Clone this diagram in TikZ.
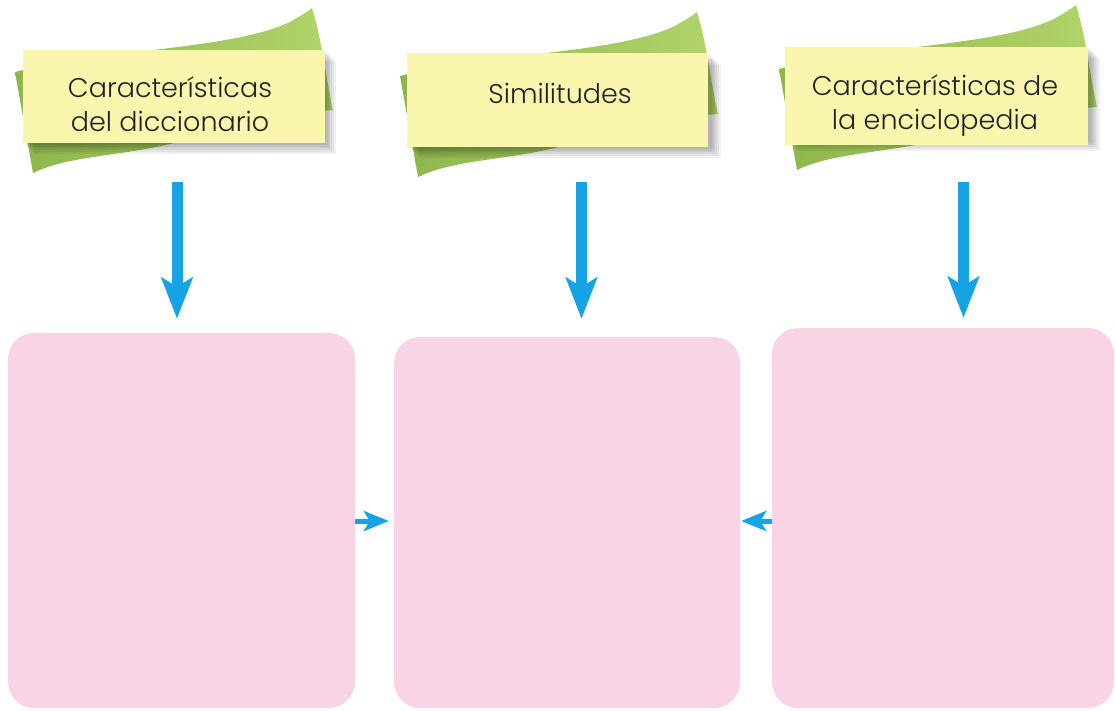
\documentclass[tikz,border=0pt]{standalone}
\usepackage{fontspec}
\setmainfont{Poppins}[UprightFont={* Light}]
\usetikzlibrary{arrows.meta}
\definecolor{noteyellow}{HTML}{FAF6AE}
\definecolor{leaflight}{HTML}{B2D46A}
\definecolor{leafdark}{HTML}{8DB64C}
\definecolor{boxpink}{HTML}{F8D4E6}
\definecolor{arrowblue}{HTML}{15A3E6}
\definecolor{txtgray}{HTML}{222222}
\newcommand{\greenleaf}[2]{%
  \begin{scope}[shift={(#1,#2)}]
    \shade[left color=leafdark, right color=leaflight]
      (15,72) .. controls (110,48) and (230,50) .. (290,22)
      .. controls (300,16) and (307,12) .. (312,8)
      .. controls (322,40) and (326,80) .. (333,110)
      .. controls (260,115) and (200,140) .. (140,150)
      .. controls (90,158) and (60,160) .. (33,173) -- cycle;
    \foreach \i in {1,...,6}
      \fill[black,opacity=0.055] (23+\i*1.8,50+\i*1.8) rectangle (325+\i*1.8,143+\i*1.8);
  \end{scope}}
\tikzset{
  note/.style={fill=noteyellow, draw=none, inner sep=0pt},
  notetext/.style={align=center, text=txtgray, font=\fontsize{27}{34}\selectfont, inner sep=0pt},
  pinkbox/.style={fill=boxpink, draw=none, rounded corners=26pt, inner sep=0pt},
  downarrow/.style={draw=arrowblue, line width=11pt, -{Stealth[length=41pt,width=31pt,inset=9pt]}},
  sidearrow/.style={draw=arrowblue, line width=5pt, -{Stealth[length=25pt,width=20pt,inset=6pt]}},
}
\begin{document}
\begin{tikzpicture}[x=1pt,y=-1pt]
  \useasboundingbox (0,0) rectangle (1116,710);
  % notes
  \greenleaf{0}{0}
  \node[note, minimum width=302pt, minimum height=93pt] (n1) at (174,96.5) {};
  \node[notetext] (t1) at (170,104) {Características\\del diccionario};
  \greenleaf{385}{4}
  \node[note, minimum width=301pt, minimum height=94pt] (n2) at (557.5,100) {};
  \node[notetext] (t2) at (560,93) {Similitudes};
  \greenleaf{764}{-3}
  \node[note, minimum width=303pt, minimum height=98pt] (n3) at (936.5,96) {};
  \node[notetext] (t3) at (935,106) {Características de\\la enciclopedia};
  % pink boxes
  \node[pinkbox, minimum width=347pt, minimum height=375pt] (b1) at (181.5,520.5) {};
  \node[pinkbox, minimum width=346pt, minimum height=371pt] (b2) at (567,522.5) {};
  \node[pinkbox, minimum width=342pt, minimum height=380pt] (b3) at (943,518) {};
  % arrows
  \draw[downarrow] ([xshift=3pt,yshift=-39pt]n1.south) -- ([xshift=3pt,yshift=14pt]n1.south |- b1.north);
  \draw[downarrow] ([xshift=24pt,yshift=-35pt]n2.south) -- ([xshift=24pt,yshift=18pt]n2.south |- b2.north);
  \draw[downarrow] ([xshift=27pt,yshift=-37pt]n3.south) -- ([xshift=27pt,yshift=10pt]n3.south |- b3.north);
  \draw[sidearrow] (b1.east |- 0,521) coordinate (s1) -- ([xshift=-5pt]s1 -| b2.west);
  \draw[sidearrow] (b3.west |- 0,521) coordinate (s3) -- ([xshift=1pt]s3 -| b2.east);
\end{tikzpicture}
\end{document}
